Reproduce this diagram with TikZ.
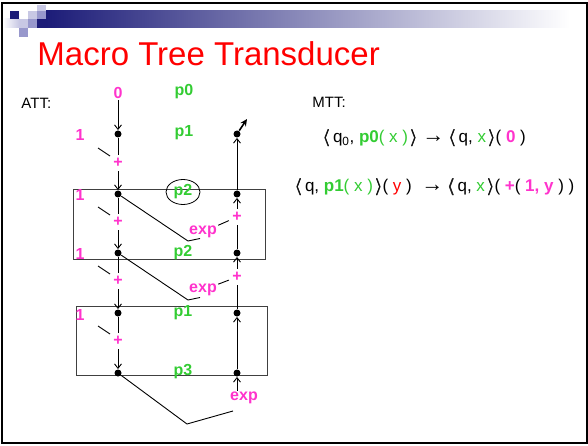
\documentclass[tikz,border=0pt]{standalone}
\usepackage{fontspec}
\setmainfont{Liberation Sans}
\usepackage{amsmath}
\usetikzlibrary{arrows.meta,shapes.geometric}
\definecolor{SlidePink}{HTML}{FF33CC}
\definecolor{SlideGreen}{HTML}{33CC33}
\definecolor{SlideNavy}{HTML}{1C1C78}
\definecolor{SlideLav}{HTML}{C8C8E4}
\definecolor{SlideMid}{HTML}{9898CC}
\definecolor{SlideBar}{HTML}{ABABC5}
\definecolor{SlideBox}{HTML}{404040}
\newcommand{\lbr}{$\pmb{\langle}$}
\newcommand{\rbr}{$\pmb{\rangle}$}
\newcommand{\rto}{{\fontsize{22}{22}\selectfont\bfseries →}}

\begin{document}
\begin{tikzpicture}[x=1pt,y=-1pt,line width=0.9pt,
    >={Straight Barb[length=4.5pt,width=7pt]}]
  \tikzstyle{dot}=[circle,fill=black,inner sep=0pt,minimum size=7pt]
  \tikzstyle{lab}=[font=\fontsize{16}{18}\selectfont\bfseries,inner sep=1pt]
  \tikzstyle{num}=[lab,text=SlidePink]
  \tikzstyle{sym}=[lab,text=SlideGreen]
  \tikzstyle{op}=[num,inner sep=3pt]
  \tikzstyle{rule}=[font=\fontsize{17}{19}\selectfont,anchor=base west,inner sep=0pt]
  \useasboundingbox (0,0) rectangle (588,446);

  % slide frame and header
  \shade[left color=SlideNavy,middle color=SlideBar,right color=white] (46,11) rectangle (570,28);
  \shade[left color=white,right color=SlideLav] (3,19) rectangle (19,28);
  \fill[SlideNavy] (10,11) rectangle (19,19);
  \fill[SlideLav] (28,11) rectangle (37,19);
  \fill[SlideMid] (37,11) rectangle (46,19);
  \fill[SlideLav] (37,5) rectangle (46,11);
  \fill[SlideLav] (19,19) rectangle (28,28);
  \fill[SlideMid] (28,19) rectangle (37,28);
  \fill[SlideNavy] (37,19) rectangle (46,28);
  \fill[SlideMid] (19,28) rectangle (28,37);
  \draw[line width=2pt] (2,3) rectangle (587,443);

  \node[anchor=base west,inner sep=0pt,text=red,font=\fontsize{33}{36}\selectfont] (title) at (37,66) {Macro Tree Transducer};
  \node[anchor=base west,inner sep=0pt,font=\fontsize{15}{17}\selectfont] (att) at (21,109) {ATT:};
  \node[anchor=base west,inner sep=0pt,font=\fontsize{15}{17}\selectfont] (mtt) at (312,108) {MTT:};

  % the two rule boxes
  \draw[SlideBox] (73,189) rectangle (265,259);
  \draw[SlideBox] (76,306) rectangle (267,375);

  % attribute nodes
  \node[num] (zero) at (118,93) {0};
  \node[sym] (s0) at (184,92) {p0};
  \node[dot] (l1) at (118,134) {};
  \node[dot] (r1) at (237,134) {};
  \node[num] (one1) at (80,135) {1};
  \node[sym] (s1) at (184,133) {p1};
  \node[op] (pl1) at (118,163) {+};
  \node[dot] (l2) at (118,194) {};
  \node[dot] (r2) at (237,194) {};
  \node[num] (one2) at (80,195) {1};
  \node[sym,draw=black,line width=0.8pt,ellipse,minimum width=34pt,minimum height=25pt] (s2) at (183,192) {p2};
  \node[op] (pl2) at (118,222) {+};
  \node[op] (pr2) at (237,217) {+};
  \node[num] (exp1) at (203,232) {exp};
  \node[dot] (l3) at (118,253) {};
  \node[dot] (r3) at (237,253) {};
  \node[num] (one3) at (80,254) {1};
  \node[sym] (s3) at (183,253) {p2};
  \node[op] (pl3) at (118,281) {+};
  \node[op] (pr3) at (237,277) {+};
  \node[num] (exp2) at (203,290) {exp};
  \node[dot] (l4) at (118,313) {};
  \node[dot] (r4) at (237,313) {};
  \node[num] (one4) at (80,315) {1};
  \node[sym] (s4) at (183,313) {p1};
  \node[op] (pl4) at (118,341) {+};
  \node[dot] (l5) at (118,373) {};
  \node[dot] (r5) at (237,373) {};
  \node[sym] (s5) at (183,372) {p3};
  \node[num] (exp3) at (244,398) {exp};

  \coordinate (v1) at (188,241);
  \coordinate (w1) at (200,238.5);
  \coordinate (v2) at (188,300);
  \coordinate (w2) at (200,297.5);
  \coordinate (v3) at (187,424);
  \coordinate (w3) at (233,411);
  \coordinate (tip) at (247,119);

  % left column (downwards)
  \draw[->] (zero) -- (l1);
  \draw (l1) -- (pl1);
  \draw[->] (pl1) -- (l2);
  \draw (l2) -- (pl2);
  \draw[->] (pl2) -- (l3);
  \draw (l3) -- (pl3);
  \draw[->] (pl3) -- (l4);
  \draw (l4) -- (pl4);
  \draw[->] (pl4) -- (l5);

  % right column (upwards)
  \draw[->] (r2) -- (r1);
  \draw[-{Stealth[length=7pt,width=6.5pt]},line width=1.6pt] (r1) -- (tip);
  \draw[->] (pr2) -- (r2);
  \draw (r3) -- (pr2);
  \draw[->] (pr3) -- (r3);
  \draw (r4) -- (pr3);
  \draw[->] (r5) -- (r4);
  \draw[->] (exp3.north -| r5) -- (r5);

  % crossing links
  \draw (l2) -- (v1) -- (w1);
  \draw (exp1) -- (pr2);
  \draw (l3) -- (v2) -- (w2);
  \draw (exp2) -- (pr3);
  \draw (l5) -- (v3) -- (w3);

  % little ticks beside the 1s
  \draw (98,148) -- (110,156);
  \draw (98,207) -- (110,215);
  \draw (98,266) -- (110,274);
  \draw (98,326) -- (110,334);

  % MTT rules
  \node[rule] (rule1) at (323,143) {\lbr\,q\textsubscript{0}, \textcolor{SlideGreen}{\textbf{p0}( x )}\,\rbr\ \rto\ \lbr\,q, \textcolor{SlideGreen}{x}\,\rbr( \textcolor{SlidePink}{\textbf{0}} )};
  \node[rule] (rule2) at (295,192) {\lbr\,q, \textcolor{SlideGreen}{\textbf{p1}( x )}\,\rbr( \textcolor{red}{y} )\ \ \rto\ \lbr\,q, \textcolor{SlideGreen}{x}\,\rbr( \textcolor{SlidePink}{\textbf{+}}( \textcolor{SlidePink}{\textbf{1, y}} ) )};
\end{tikzpicture}
\end{document}
